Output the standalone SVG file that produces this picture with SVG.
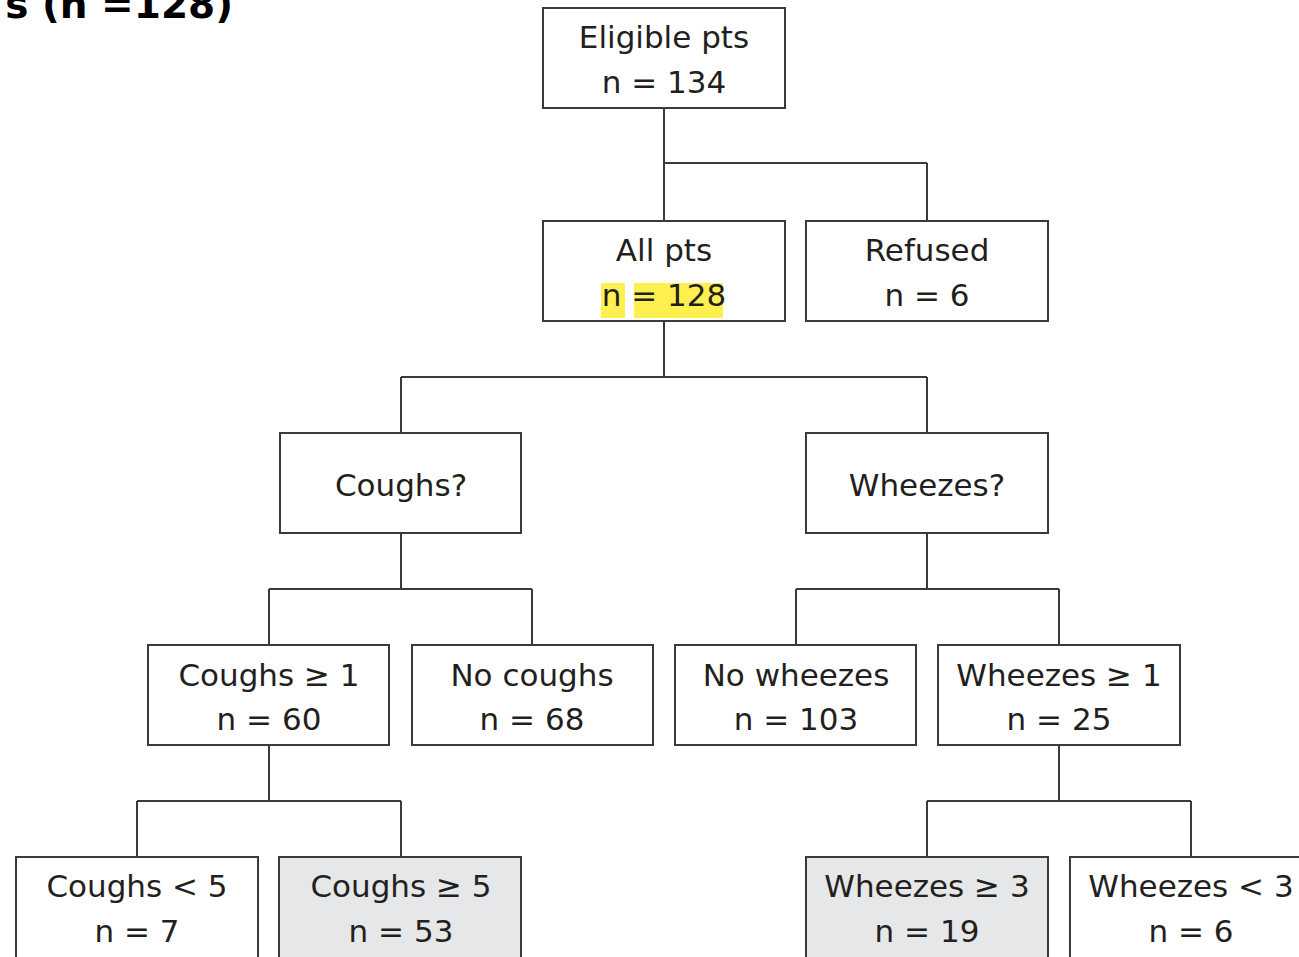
<svg xmlns="http://www.w3.org/2000/svg" width="1299" height="957" viewBox="0 0 1299 957">
<style>
.box{fill:#ffffff;stroke:#3a3a3a;stroke-width:2}
.grey{fill:#e6e7e8}
.t{font-family:"DejaVu Sans",sans-serif;font-size:31px;fill:#231f20;text-anchor:middle}
.conn{fill:none;stroke:#3a3a3a;stroke-width:2}
.hl{fill:#fff04f}
</style>
<rect width="1299" height="957" fill="#ffffff"/>
<text x="233" y="18" style="font-family:'DejaVu Sans',sans-serif;font-size:39px;font-weight:bold;fill:#000;text-anchor:end">s (n =128)</text>
<g id="connectors">
<path class="conn" d="M664 108V163M664 163H927M664 163V221M927 163V221"/>
<path class="conn" d="M664 321V377M401 377H927M401 377V433M927 377V433"/>
<path class="conn" d="M401 533V589M269 589H532M269 589V645M532 589V645"/>
<path class="conn" d="M927 533V589M796 589H1059M796 589V645M1059 589V645"/>
<path class="conn" d="M269 745V801M137 801H401M137 801V857M401 801V857"/>
<path class="conn" d="M1059 745V801M927 801H1191M927 801V857M1191 801V857"/>
</g>
<g id="eligible"><rect class="box" x="543" y="8" width="242" height="100"/><text class="t" x="664" y="48">Eligible pts</text><text class="t" x="664" y="93">n = 134</text></g>
<g id="allpts"><rect class="box" x="543" y="221" width="242" height="100"/><rect class="hl" x="601" y="283" width="24" height="35"/><rect class="hl" x="634" y="283" width="89" height="35"/><text class="t" x="664" y="261">All pts</text><text class="t" x="664" y="306">n = 128</text></g>
<g id="refused"><rect class="box" x="806" y="221" width="242" height="100"/><text class="t" x="927" y="261">Refused</text><text class="t" x="927" y="306">n = 6</text></g>
<g id="coughsq"><rect class="box" x="280" y="433" width="241" height="100"/><text class="t" x="401" y="496">Coughs?</text></g>
<g id="wheezesq"><rect class="box" x="806" y="433" width="242" height="100"/><text class="t" x="927" y="496">Wheezes?</text></g>
<g id="coughs1"><rect class="box" x="148" y="645" width="241" height="100"/><text class="t" x="269" y="686">Coughs ≥ 1</text><text class="t" x="269" y="730">n = 60</text></g>
<g id="nocoughs"><rect class="box" x="412" y="645" width="241" height="100"/><text class="t" x="532" y="686">No coughs</text><text class="t" x="532" y="730">n = 68</text></g>
<g id="nowheezes"><rect class="box" x="675" y="645" width="241" height="100"/><text class="t" x="796" y="686">No wheezes</text><text class="t" x="796" y="730">n = 103</text></g>
<g id="wheezes1"><rect class="box" x="938" y="645" width="242" height="100"/><text class="t" x="1059" y="686">Wheezes ≥ 1</text><text class="t" x="1059" y="730">n = 25</text></g>
<g id="coughslt5"><rect class="box" x="16" y="857" width="242" height="110"/><text class="t" x="137" y="897">Coughs &lt; 5</text><text class="t" x="137" y="942">n = 7</text></g>
<g id="coughsge5"><rect class="box grey" x="279" y="857" width="242" height="110"/><text class="t" x="401" y="897">Coughs ≥ 5</text><text class="t" x="401" y="942">n = 53</text></g>
<g id="wheezesge3"><rect class="box grey" x="806" y="857" width="242" height="110"/><text class="t" x="927" y="897">Wheezes ≥ 3</text><text class="t" x="927" y="942">n = 19</text></g>
<g id="wheezeslt3"><rect class="box" x="1070" y="857" width="242" height="110"/><text class="t" x="1191" y="897">Wheezes &lt; 3</text><text class="t" x="1191" y="942">n = 6</text></g>
</svg>
